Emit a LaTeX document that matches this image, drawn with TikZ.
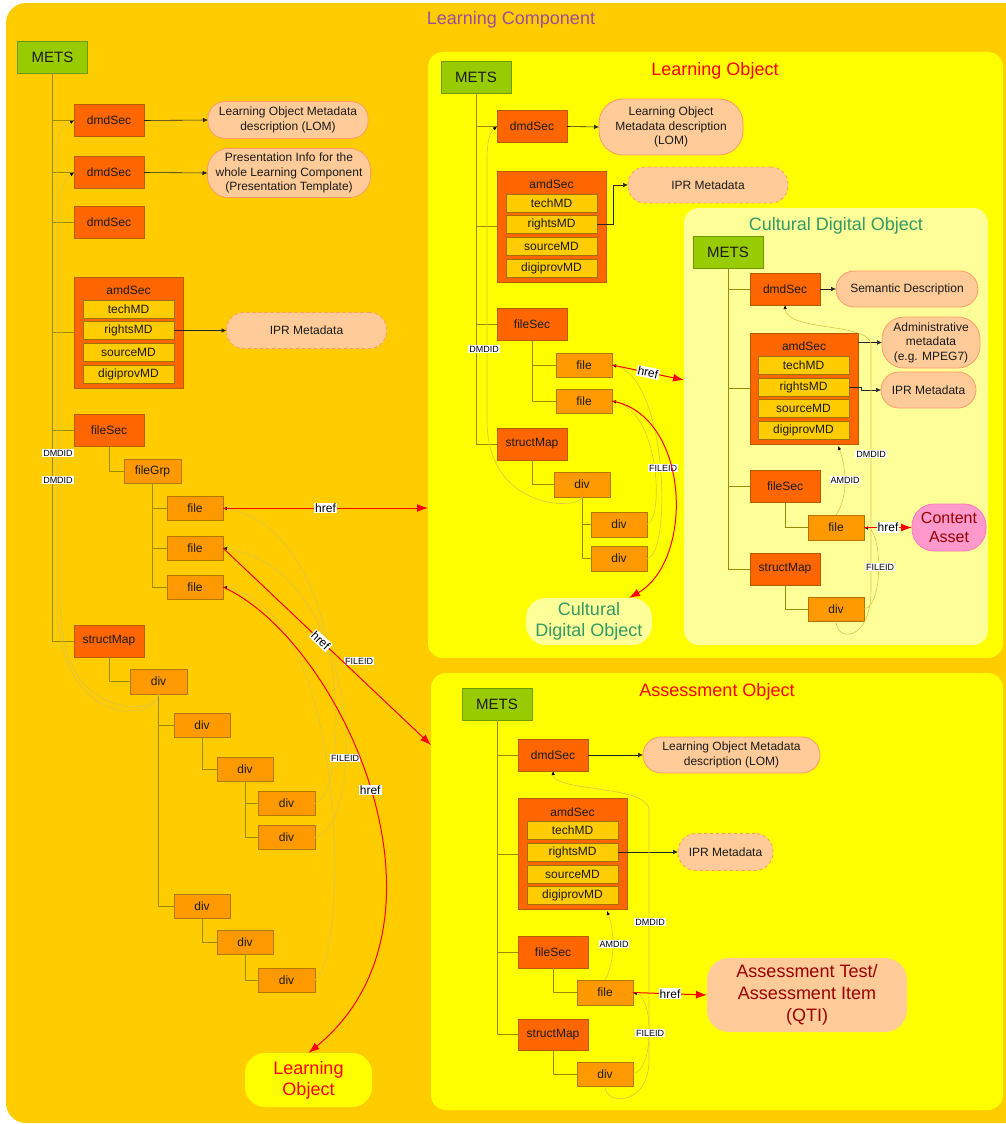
\documentclass[tikz,border=0pt]{standalone}
\usepackage{fontspec}
\setmainfont{Liberation Sans}
\usetikzlibrary{arrows.meta,calc}

\definecolor{bgor}{HTML}{FFCC00}
\definecolor{panely}{HTML}{FFFF00}
\definecolor{cdoy}{HTML}{FFFF99}
\definecolor{metsf}{HTML}{99CC00}
\definecolor{metsd}{HTML}{6E9900}
\definecolor{secf}{HTML}{FF6600}
\definecolor{secd}{HTML}{B85C00}
\definecolor{leaff}{HTML}{FF9900}
\definecolor{leafd}{HTML}{B07800}
\definecolor{mdf}{HTML}{FFCC00}
\definecolor{mdd}{HTML}{A07000}
\definecolor{bubf}{HTML}{FFCC99}
\definecolor{bubd}{HTML}{FF9966}
\definecolor{pinkf}{HTML}{FF99CC}
\definecolor{pinkd}{HTML}{FF77BB}
\definecolor{treec}{HTML}{9C8A00}
\definecolor{xrefc}{HTML}{DCC448}
\definecolor{purp}{HTML}{9B4F9B}
\definecolor{grn}{HTML}{339966}
\definecolor{dred}{HTML}{990000}
\definecolor{txt}{HTML}{1A1A1A}

\begin{document}
\begin{tikzpicture}[x=1pt,y=-1pt,
  base/.style={inner sep=0pt, outer sep=0pt, line width=0.8pt, text=txt,
    font=\fontsize{12}{14.5}\selectfont, align=center},
  mets/.style={base, draw=metsd, fill=metsf, minimum width=70, minimum height=32,
    font=\fontsize{15}{18}\selectfont},
  sec/.style={base, draw=secd, fill=secf, minimum width=70, minimum height=32},
  leaf/.style={base, draw=leafd, fill=leaff, minimum width=56, minimum height=24},
  mdbox/.style={base, draw=mdd, fill=mdf, minimum width=91, minimum height=18},
  amd/.style={base, draw=secd, fill=secf, minimum width=109, minimum height=111},
  bubble/.style={base, draw=bubd, fill=bubf, rounded corners=17},
  iprbox/.style={bubble, dashed},
  panel/.style={inner sep=0pt, outer sep=0pt, rounded corners=15, fill=panely},
  ttl/.style={inner sep=0pt, font=\fontsize{18}{21}\selectfont},
  pill/.style={base, rounded corners=20, font=\fontsize{18}{21}\selectfont},
  treeline/.style={draw=treec, line width=0.8pt},
  arr/.style={draw=black!85, line width=0.6pt, -{Latex[length=5pt,width=4.5pt]}},
  href/.style={draw=red, line width=1pt, -{Latex[length=11pt,width=8pt]}},
  xref/.style={draw=xrefc, line width=0.6pt, -{Latex[length=4pt,width=3.5pt,color=black]}},
  tag/.style={fill=white, inner sep=0.8pt, text=black, font=\fontsize{9}{10}\selectfont},
  htag/.style={fill=white, inner sep=1pt, text=black, font=\fontsize{12}{13}\selectfont}
]
\useasboundingbox (0,0) rectangle (1006,1124);
\clip (0,0) rectangle (1006,1124);

% outer frame
\fill[bgor, rounded corners=20] (6,3) rectangle (1040,1123);
\node[ttl, text=purp] (ttlLC) at (511,19.5) {Learning Component};

% nested panels
\node[panel, minimum width=575, minimum height=606] (lo) at (715.5,355) {};
\node[panel, fill=cdoy, minimum width=304, minimum height=437] (cdo) at (836,426.5) {};
\node[panel, minimum width=572, minimum height=437] (ao) at (717,891.5) {};
\node[ttl, text=red] (ttlLO) at (715,70.5) {Learning Object};
\node[ttl, text=grn] (ttlCDO) at (836,225.5) {Cultural Digital Object};
\node[ttl, text=red] (ttlAO) at (717,691.5) {Assessment Object};

% ================= Learning Component tree =================
\node[mets] (m0) at (52.5,57) {METS};
\node[sec] (d01) at (109,120.5) {dmdSec};
\node[sec] (d02) at (109,172.5) {dmdSec};
\node[sec] (d03) at (109,222.5) {dmdSec};
\node[amd] (a0) at (128.5,332.5) {};
\node[base] (a0t) at (128.5,290) {amdSec};
\node[mdbox] (tc0) at (128.5,309.5) {techMD};
\node[mdbox] (rt0) at (128.5,330.5) {rightsMD};
\node[mdbox] (sr0) at (128.5,352) {sourceMD};
\node[mdbox] (dp0) at (128.5,374) {digiprovMD};
\node[bubble, minimum width=160, minimum height=37] (lom0) at (288,120) {Learning Object Metadata\\description (LOM)};
\node[bubble, rounded corners=21, minimum width=163, minimum height=49] (pres0) at (289,173) {Presentation Info for the\\whole Learning Component\\(Presentation Template)};
\node[iprbox, minimum width=160, minimum height=36] (ipr0) at (306.5,330.5) {IPR Metadata};

\node[sec] (fs0) at (109,430.5) {fileSec};
\node[leaf, minimum width=57] (fg0) at (152.5,471) {fileGrp};
\node[leaf] (f01) at (195,508) {file};
\node[leaf] (f02) at (195,548) {file};
\node[leaf] (f03) at (195,587) {file};
\node[sec] (sm0) at (109,641) {structMap};
\node[leaf, minimum width=57, minimum height=25] (v01) at (158.5,681.5) {div};
\node[leaf] (v02) at (202,725) {div};
\node[leaf] (v03) at (245,769) {div};
\node[leaf, minimum width=57] (v04) at (286.5,803.5) {div};
\node[leaf, minimum width=57] (v05) at (286.5,837.5) {div};
\node[leaf] (v06) at (202,906) {div};
\node[leaf] (v07) at (245,942) {div};
\node[leaf, minimum width=57] (v08) at (286.5,980) {div};
\node[pill, fill=panely, text=red, minimum width=127, minimum height=54] (lopill) at (308.5,1080) {Learning\\Object};

\foreach \n in {d01,d02,d03,a0,fs0,sm0} \draw[treeline] (m0.south) |- (\n.west);
\draw[treeline] (fs0.south) |- (fg0.west);
\foreach \n in {f01,f02,f03} \draw[treeline] (fg0.south) |- (\n.west);
\draw[treeline] (sm0.south) |- (v01.west);
\foreach \n in {v02,v06} \draw[treeline] (v01.south) |- (\n.west);
\draw[treeline] (v02.south) |- (v03.west);
\foreach \n in {v04,v05} \draw[treeline] (v03.south) |- (\n.west);
\draw[treeline] (v06.south) |- (v07.west);
\draw[treeline] (v07.south) |- (v08.west);

\draw[arr] (d01.east) -- (lom0.west);
\draw[arr] (d02.east) -- (pres0.west);
\draw[arr] (rt0.east) -- (ipr0.west);

% DMDID links
\draw[xref] (v01.south) .. controls (156,722) and (57,730) .. (57,600) -- (57,150) .. controls (57,132) and (63,126) .. (d01.west);
\draw[xref] (v01.south) .. controls (160,716) and (61,722) .. (61,610) -- (61,200) .. controls (61,184) and (66,178) .. (d02.west);
\node[tag] (dm0a) at (58,453) {DMDID};
\node[tag] (dm0b) at (58,480) {DMDID};

% FILEID links
\draw[xref] (v04.east) .. controls (352,792) and (350,530) .. (f01.east);
\draw[xref] (v05.east) .. controls (368,822) and (362,570) .. (f02.east);
\draw[xref] (v08.east) .. controls (348,962) and (352,612) .. (f03.east);
\node[tag] (fi0a) at (359,661) {FILEID};
\node[tag] (fi0b) at (345,758) {FILEID};

% href links
\coordinate (aoin) at (431,745);
\draw[href] (f01.east) -- (f01.east -| lo.west) node[htag, midway] {href};
\draw[href] (f02.east) -- (aoin) node[htag, pos=0.47, sloped] {href};
\draw[href] (f03.east) .. controls (340,640) and (470,920) .. (lopill.north) node[htag, pos=0.5] {href};

% ================= Learning Object =================
\node[mets] (m1) at (476,77) {METS};
\node[sec] (d11) at (532,126.5) {dmdSec};
\node[bubble, rounded corners=24, minimum width=144, minimum height=56] (lom1) at (671,127) {Learning Object\\Metadata description\\(LOM)};
\node[amd] (a1) at (551.5,226.5) {};
\node[base] (a1t) at (551.5,184) {amdSec};
\node[mdbox] (tc1) at (551.5,203) {techMD};
\node[mdbox] (rt1) at (551.5,224) {rightsMD};
\node[mdbox] (sr1) at (551.5,246) {sourceMD};
\node[mdbox] (dp1) at (551.5,268) {digiprovMD};
\node[iprbox, minimum width=160, minimum height=36] (ipr1) at (708,185) {IPR Metadata};
\node[sec] (fs1) at (532,324.5) {fileSec};
\node[leaf] (f11) at (584,365) {file};
\node[leaf] (f12) at (584,401) {file};
\node[sec] (sm1) at (532,444) {structMap};
\node[leaf, minimum height=25] (v11) at (582,484.5) {div};
\node[leaf, minimum height=25] (v12) at (619,524.5) {div};
\node[leaf, minimum height=25] (v13) at (619,558.5) {div};
\node[pill, fill=cdoy, text=grn, minimum width=126, minimum height=47] (cdopill) at (589,621.5) {Cultural\\Digital Object};

\foreach \n in {d11,a1,fs1,sm1} \draw[treeline] (m1.south) |- (\n.west);
\foreach \n in {f11,f12} \draw[treeline] (fs1.south) |- (\n.west);
\draw[treeline] (sm1.south) |- (v11.west);
\foreach \n in {v12,v13} \draw[treeline] (v11.south) |- (\n.west);

\draw[arr] (d11.east) -- (lom1.west);
\draw[arr] (rt1.east) -- ++(16,0) |- (ipr1.west);

\draw[xref] (v11.south) .. controls (580,510) and (487,512) .. (487,420) -- (487,160) .. controls (487,140) and (490,132) .. (d11.west);
\node[tag] (dm1) at (484,349) {DMDID};
\draw[xref] (v12.east) .. controls (664,520) and (660,412) .. (f12.east);
\draw[xref] (v13.east) .. controls (672,556) and (668,378) .. (f11.east);
\node[tag] (fi1) at (663,468) {FILEID};

\coordinate (cdoin) at (684,380);
\draw[href] (f11.east) -- (cdoin) node[htag, midway, sloped] {href};
\draw[href] (f12.east) .. controls (690,415) and (695,560) .. ($(cdopill.north)+(40,0)$);

% ================= Cultural Digital Object =================
\node[mets] (m2) at (728,252) {METS};
\node[sec] (d21) at (785,289) {dmdSec};
\node[bubble, rounded corners=18, minimum width=142, minimum height=36] (sem) at (907,289) {Semantic Description};
\node[amd, minimum width=108] (a2) at (804,388.5) {};
\node[base] (a2t) at (804,346) {amdSec};
\node[mdbox] (tc2) at (803.5,365) {techMD};
\node[mdbox] (rt2) at (803.5,387) {rightsMD};
\node[mdbox] (sr2) at (803.5,408) {sourceMD};
\node[mdbox] (dp2) at (803.5,430) {digiprovMD};
\node[bubble, rounded corners=22, minimum width=98, minimum height=51] (adm) at (931,342.5) {Administrative\\metadata\\(e.g. MPEG7)};
\node[bubble, rounded corners=18, minimum width=95, minimum height=36] (ipr2) at (928.5,390) {IPR Metadata};
\node[sec] (fs2) at (785,486.5) {fileSec};
\node[leaf, minimum height=25] (f21) at (836,527.5) {file};
\node[sec] (sm2) at (785,569) {structMap};
\node[leaf] (v21) at (836,609) {div};
\node[pill, draw=pinkd, fill=pinkf, text=dred, rounded corners=22, minimum width=74, minimum height=47,
  font=\fontsize{16}{19}\selectfont] (ca) at (949,527.5) {Content\\Asset};

\foreach \n in {d21,a2,fs2,sm2} \draw[treeline] (m2.south) |- (\n.west);
\draw[treeline] (fs2.south) |- (f21.west);
\draw[treeline] (sm2.south) |- (v21.west);

\draw[arr] (d21.east) -- (sem.west);
\draw[arr] (a2.east |- adm.west) -- (adm.west);
\draw[arr] (rt2.east) -- ++(12,0) |- (ipr2.west);

\coordinate (a2in) at (838,446);
\draw[xref] (v21.south) .. controls (836,642) and (871,642) .. (871,590) -- (871,345) .. controls (871,322) and (786,332) .. (d21.south);
\node[tag] (dm2) at (871,454) {DMDID};
\draw[xref] (f21.north) .. controls (849,496) and (846,466) .. (a2in);
\node[tag] (am2) at (845,480) {AMDID};
\draw[xref] (v21.east) .. controls (884,606) and (882,530) .. (f21.east);
\node[tag] (fi2) at (880,567) {FILEID};
\draw[href] (f21.east) -- (ca.west) node[htag, midway] {href};

% ================= Assessment Object =================
\node[mets] (m3) at (497,704) {METS};
\node[sec] (d31) at (553,755) {dmdSec};
\node[bubble, rounded corners=18, minimum width=177, minimum height=36] (lom3) at (731.5,755) {Learning Object Metadata\\description (LOM)};
\node[amd] (a3) at (572.5,854) {};
\node[base] (a3t) at (572.5,812) {amdSec};
\node[mdbox] (tc3) at (572.5,830) {techMD};
\node[mdbox] (rt3) at (572.5,852) {rightsMD};
\node[mdbox] (sr3) at (572.5,874) {sourceMD};
\node[mdbox] (dp3) at (572.5,895) {digiprovMD};
\node[iprbox, rounded corners=18, minimum width=95, minimum height=37] (ipr3) at (725.5,852) {IPR Metadata};
\node[sec] (fs3) at (553,952) {fileSec};
\node[leaf, minimum height=25] (f31) at (605,992.5) {file};
\node[sec, minimum height=31] (sm3) at (553,1034.5) {structMap};
\node[leaf] (v31) at (605,1074) {div};
\node[pill, draw=none, fill=bubf, text=dred, rounded corners=22, minimum width=200, minimum height=74,
  font=\fontsize{18}{21.7}\selectfont] (qti) at (807,995) {Assessment Test/\\Assessment Item\\(QTI)};

\foreach \n in {d31,a3,fs3,sm3} \draw[treeline] (m3.south) |- (\n.west);
\draw[treeline] (fs3.south) |- (f31.west);
\draw[treeline] (sm3.south) |- (v31.west);

\draw[arr] (d31.east) -- (lom3.west);
\draw[arr] (rt3.east) -- (ipr3.west);

\coordinate (a3in) at (607,911);
\draw[xref] (v31.south) .. controls (605,1106) and (649,1106) .. (649,1060) -- (649,810) .. controls (649,785) and (554,792) .. (d31.south);
\node[tag] (dm3) at (650,922) {DMDID};
\draw[xref] (f31.north) .. controls (616,960) and (614,930) .. (a3in);
\node[tag] (am3) at (614,944) {AMDID};
\draw[xref] (v31.east) .. controls (654,1070) and (654,998) .. (f31.east);
\node[tag] (fi3) at (650,1033) {FILEID};
\draw[href] (f31.east) -- (qti.west) node[htag, midway] {href};

\end{tikzpicture}
\end{document}
